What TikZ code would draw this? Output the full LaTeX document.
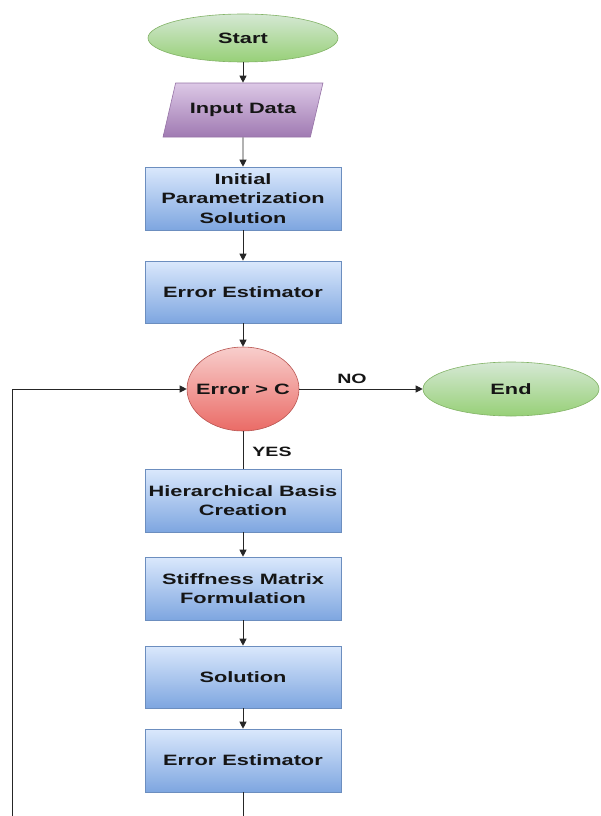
\documentclass[tikz,border=0pt]{standalone}
\usepackage{fontspec}
\setmainfont{Liberation Sans}[FakeStretch=1.45]
\usetikzlibrary{arrows.meta,shapes.geometric}
\definecolor{greentop}{HTML}{D5E8D4}
\definecolor{greenbot}{HTML}{97D077}
\definecolor{greenline}{HTML}{82B366}
\definecolor{purptop}{HTML}{DCC8E6}
\definecolor{purpbot}{HTML}{A07AB2}
\definecolor{purpline}{HTML}{9673A6}
\definecolor{bluetop}{HTML}{DAE8FC}
\definecolor{bluebot}{HTML}{7EA6E0}
\definecolor{blueline}{HTML}{6C8EBF}
\definecolor{redtop}{HTML}{F8CECC}
\definecolor{redbot}{HTML}{EA6B66}
\definecolor{redline}{HTML}{B85450}
\definecolor{txt}{HTML}{151515}
\begin{document}
\begin{tikzpicture}[x=1pt,y=1pt,
  base/.style={font=\fontsize{15}{19.5}\selectfont\bfseries, text=txt, align=center, inner sep=0pt},
  term/.style={base, ellipse, draw=greenline, line width=0.6pt, top color=greentop, bottom color=greenbot},
  iobox/.style={base, trapezium, trapezium left angle=53.5, trapezium right angle=126.5,
     trapezium stretches=true, minimum width=160pt, minimum height=54pt,
     draw=purpline, line width=0.6pt, top color=purptop, bottom color=purpbot},
  procbox/.style={base, rectangle, draw=blueline, line width=0.6pt, top color=bluetop, bottom color=bluebot,
     minimum width=196pt, minimum height=63pt},
  decis/.style={ellipse, draw=redline, line width=0.6pt, top color=redtop, bottom color=redbot,
     minimum width=112pt, minimum height=84pt, inner sep=0pt},
  lab/.style={font=\fontsize{13.5}{16}\selectfont\bfseries, text=txt, inner sep=0pt},
  conn/.style={line width=0.9pt, draw=black!85},
  arr/.style={conn, -{Triangle[length=7pt,width=7pt]}}
]
\useasboundingbox (0,0) rectangle (600,-816);

\node[term, minimum width=190pt, minimum height=48pt] (start) at (243,-38) {Start};
\node[iobox] (input) at (243,-110) {Input Data};
\node[procbox] (init) at (243,-198.5) {Initial\\Parametrization\\Solution};
\node[procbox, minimum height=62pt] (est1) at (243,-292) {Error Estimator};
\node[decis, label={[base]center:Error > C}] (dec) at (243,-389) {};
\node[term, minimum width=176pt, minimum height=54pt] (end) at (511,-389) {End};
\node[procbox] (hier) at (243,-500.5) {Hierarchical Basis\\Creation};
\node[procbox] (stiff) at (243,-588.5) {Stiffness Matrix\\Formulation};
\node[procbox, minimum height=62pt] (sol) at (243,-677) {Solution};
\node[procbox] (est2) at (243,-760.5) {Error Estimator};

\node[lab] (no) at (352,-379) {NO};
\node[lab] (yes) at (272,-452) {YES};

\coordinate (bot) at (243,-816);
\coordinate (leftbot) at (12,-816);

\draw[arr] (start) -- (input);
\draw[arr] (input) -- (init);
\draw[arr] (init) -- (est1);
\draw[arr] (est1) -- (dec);
\draw[arr] (dec) -- (end);
\draw[conn] (dec) -- (hier);
\draw[arr] (hier) -- (stiff);
\draw[arr] (stiff) -- (sol);
\draw[arr] (sol) -- (est2);
\draw[conn] (est2) -- (bot);
\draw[arr] (leftbot) |- (dec.west);
\end{tikzpicture}
\end{document}
